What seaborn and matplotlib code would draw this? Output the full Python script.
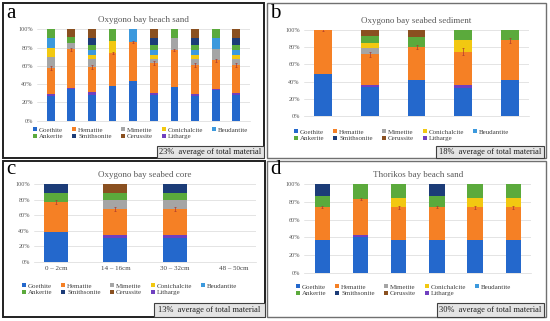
import matplotlib
matplotlib.use("Agg")
import matplotlib.pyplot as plt
import seaborn as sns
import pandas as pd
from matplotlib.patches import Rectangle, Patch

# stacking order, bottom to top
stack_order = ["Goethite", "Litharge", "Hematite", "Mimetite", "Conichalcite",
               "Beudantite", "Ankerite", "Smithsonite", "Cerussite"]
legend_order = ["Goethite", "Hematite", "Mimetite", "Conichalcite", "Beudantite",
                "Ankerite", "Smithsonite", "Cerussite", "Litharge"]
colors = {
    "Goethite": "#2468CC", "Litharge": "#7040C0", "Hematite": "#F58025",
    "Mimetite": "#A5A5A5", "Conichalcite": "#F2C811", "Beudantite": "#3C99DD",
    "Ankerite": "#5BAA3C", "Smithsonite": "#1C3C78", "Cerussite": "#8A5020",
}

# a - Oxygono bay beach sand (10 samples)
a_cats = [str(i) for i in range(1, 11)]
a_goethite = [27, 35, 28, 38, 43, 28, 37, 27, 34, 28]
a_litharge = [2, 1, 3, 0, 0, 2, 0, 2, 1, 2]
a_hematite = [29, 42, 28, 36, 43, 33, 40, 32, 31, 31]
a_mimetite = [12, 7, 8, 0, 0, 4, 13, 6, 12, 6]
a_conichalcite = [10, 0, 5, 13, 0, 5, 0, 5, 0, 5]
a_beudantite = [10, 0, 5, 0, 14, 5, 0, 5, 12, 5]
a_ankerite = [10, 7, 6, 13, 0, 6, 10, 6, 10, 6]
a_smithsonite = [0, 0, 7, 0, 0, 7, 0, 7, 0, 7]
a_cerussite = [0, 8, 10, 0, 0, 10, 0, 10, 0, 10]
a_hem_err = [2, 2, 2, 1, 1, 2, 1, 2, 2, 2]

# b - Oxygono bay seabed sediment
b_cats = ["1", "2", "3", "4", "5"]
b_goethite = [49, 34, 42, 33, 42]
b_litharge = [0, 2, 0, 3, 0]
b_hematite = [51, 36, 38, 39, 46]
b_mimetite = [0, 7, 0, 0, 0]
b_conichalcite = [0, 6, 0, 13, 0]
b_beudantite = [0, 0, 0, 0, 0]
b_ankerite = [0, 8, 12, 12, 12]
b_smithsonite = [0, 0, 0, 0, 0]
b_cerussite = [0, 7, 8, 0, 0]
b_hem_err = [1, 3, 2, 4, 3]

# c - Oxygono bay seabed core
c_cats = ["0 – 2cm", "14 – 16cm", "30 – 32cm", "48 – 50cm"]
c_goethite = [38, 31, 31, 0]
c_litharge = [0, 3, 3, 0]
c_hematite = [39, 34, 34, 0]
c_mimetite = [0, 11, 11, 0]
c_conichalcite = [0, 0, 0, 0]
c_beudantite = [0, 0, 0, 0]
c_ankerite = [11, 10, 10, 0]
c_smithsonite = [12, 0, 11, 0]
c_cerussite = [0, 11, 0, 0]
c_hem_err = [3, 3, 3, 0]

# d - Thorikos bay beach sand
d_cats = ["1", "2", "3", "4", "5", "6"]
d_goethite = [37, 40, 37, 37, 37, 37]
d_litharge = [0, 3, 0, 0, 0, 0]
d_hematite = [37, 40, 37, 37, 37, 37]
d_mimetite = [0, 0, 0, 0, 0, 0]
d_conichalcite = [0, 0, 10, 0, 10, 10]
d_beudantite = [0, 0, 0, 0, 0, 0]
d_ankerite = [13, 17, 16, 13, 16, 16]
d_smithsonite = [13, 0, 0, 13, 0, 0]
d_cerussite = [0, 0, 0, 0, 0, 0]
d_hem_err = [1, 1, 2, 1, 2, 2]

panel_a = dict(zip(stack_order, [a_goethite, a_litharge, a_hematite, a_mimetite, a_conichalcite,
                                 a_beudantite, a_ankerite, a_smithsonite, a_cerussite]))
panel_b = dict(zip(stack_order, [b_goethite, b_litharge, b_hematite, b_mimetite, b_conichalcite,
                                 b_beudantite, b_ankerite, b_smithsonite, b_cerussite]))
panel_c = dict(zip(stack_order, [c_goethite, c_litharge, c_hematite, c_mimetite, c_conichalcite,
                                 c_beudantite, c_ankerite, c_smithsonite, c_cerussite]))
panel_d = dict(zip(stack_order, [d_goethite, d_litharge, d_hematite, d_mimetite, d_conichalcite,
                                 d_beudantite, d_ankerite, d_smithsonite, d_cerussite]))

sns.set_style("white")
plt.rcParams['font.family'] = ['Liberation Serif', 'DejaVu Serif']

W, H = 550, 321
fig = plt.figure(figsize=(5.5, 3.21), dpi=100)


def fx(x):
    return x / W


def fy(y):
    return 1 - y / H


def add_axes(x0, x1, y_top, y_bot):
    return fig.add_axes([fx(x0), fy(y_bot), (x1 - x0) / W, (y_bot - y_top) / H])


def draw_panel(ax, cats, data, hem_err, bar_w, title, show_x, legend_xy):
    # cumulative tops, drawn from the top series down so each overlays the next
    cum = {}
    running = [0] * len(cats)
    for m in stack_order:
        running = [r + v for r, v in zip(running, data[m])]
        cum[m] = running
    for m in reversed(stack_order):
        df = pd.DataFrame({"cat": cats, "val": cum[m]})
        sns.barplot(data=df, x="cat", y="val", order=cats, color=colors[m], width=bar_w,
                    errorbar=None, saturation=1, linewidth=0, ax=ax)
    pos = [i for i, v in enumerate(data["Hematite"]) if v > 0]
    ax.errorbar(pos, [cum["Hematite"][i] for i in pos], yerr=[hem_err[i] for i in pos],
                fmt="none", ecolor="#B03A2E", elinewidth=0.5, capsize=1, capthick=0.5)
    ax.set_ylim(0, 100)
    ax.set_yticks(range(0, 101, 20))
    ax.set_yticklabels([f"{v}%" for v in range(0, 101, 20)], fontsize=4.5, color="#595959")
    ax.yaxis.grid(True, color="#D9D9D9", linewidth=0.5)
    ax.set_axisbelow(True)
    ax.tick_params(length=0, pad=3)
    for s in ax.spines.values():
        s.set_visible(False)
    ax.spines["bottom"].set_visible(True)
    ax.spines["bottom"].set_color("#D9D9D9")
    ax.spines["bottom"].set_linewidth(0.5)
    ax.set_xlabel("")
    ax.set_ylabel("")
    if show_x:
        ax.set_xticks(range(len(cats)))
        ax.set_xticklabels(cats, fontsize=5, color="#404040")
    else:
        ax.set_xticklabels([])
    ax.set_title(title, fontsize=6.5, color="#595959", pad=5)
    handles = [Patch(facecolor=colors[m], edgecolor="none") for m in legend_order]
    # reorder so ncol=5 (column-major) fills row 1 then row 2
    idx = [0, 5, 1, 6, 2, 7, 3, 8, 4]
    ax.legend([handles[i] for i in idx], [legend_order[i] for i in idx],
              loc="upper left", bbox_to_anchor=(fx(legend_xy[0]), fy(legend_xy[1])),
              bbox_transform=fig.transFigure, ncol=5, frameon=False,
              prop={"size": 5}, labelcolor="#404040", handlelength=0.55, handleheight=0.55,
              handletextpad=0.3, columnspacing=1.3, labelspacing=0.15,
              borderpad=0, borderaxespad=0)


ax_a = add_axes(37, 250, 29.3, 120.7)
draw_panel(ax_a, a_cats, panel_a, a_hem_err, 0.38, "Oxygono bay beach sand", False, (33, 127))
ax_b = add_axes(304, 529, 30, 116)
draw_panel(ax_b, b_cats, panel_b, b_hem_err, 0.38, "Oxygono bay seabed sediment", False, (294, 129))
ax_c = add_axes(34, 256, 184, 261.7)
draw_panel(ax_c, c_cats, panel_c, c_hem_err, 0.4, "Oxygono bay seabed core", True, (22, 283))
ax_d = add_axes(304.4, 531.2, 184.3, 272.7)
draw_panel(ax_d, d_cats, panel_d, d_hem_err, 0.4, "Thorikos bay beach sand", False, (296, 284))

# panel frames
frames = [(3, 3, 264, 158, "#202020", 1.4), (267, 3, 546, 158, "#707070", 1.0),
          (3, 161, 265, 317, "#202020", 1.4), (267, 161, 546, 317, "#707070", 1.0)]
for x0, y0, x1, y1, ec, lw in frames:
    fig.add_artist(Rectangle((fx(x0), fy(y1)), (x1 - x0) / W, (y1 - y0) / H,
                             transform=fig.transFigure, fill=False, edgecolor=ec, linewidth=lw))

# average boxes
boxes = [(157, 146, 264, 158, "23%  average of total material"),
         (436, 146, 544, 158, "18%  average of total material"),
         (154, 303, 265, 317, "13%  average of total material"),
         (437, 303, 544, 317, "30%  average of total material")]
for x0, y0, x1, y1, txt in boxes:
    fig.add_artist(Rectangle((fx(x0), fy(y1)), (x1 - x0) / W, (y1 - y0) / H,
                             transform=fig.transFigure, facecolor="#E4E4E4",
                             edgecolor="#404040", linewidth=0.8))
    fig.text(fx((x0 + x1) / 2), fy((y0 + y1) / 2 + 0.5), txt, ha="center", va="center",
             fontsize=6, color="#202020")

# panel letters
for x, y, lab in [(6, 14, "a"), (270, 14, "b"), (6, 170, "c"), (270, 170, "d")]:
    fig.text(fx(x), fy(y), lab, fontsize=15, ha="left", va="center", color="black")

plt.savefig("out.png", dpi=100)
